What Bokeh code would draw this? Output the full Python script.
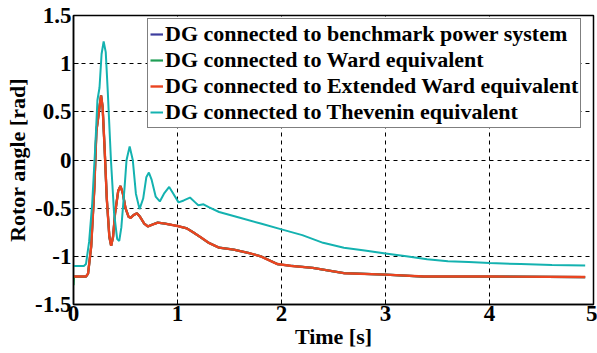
from bokeh.plotting import figure
from bokeh.models import ColumnDataSource, Legend, LegendItem, FixedTicker, Range1d
from bokeh.embed import file_html
from bokeh.resources import INLINE

# ---- data ----
t_thev = [0, 0.10, 0.12, 0.15, 0.18, 0.21, 0.23, 0.25, 0.27, 0.29, 0.31, 0.33, 0.36, 0.39,
          0.42, 0.44, 0.46, 0.49, 0.51, 0.54, 0.57, 0.60, 0.635, 0.67, 0.70, 0.725, 0.75,
          0.79, 0.83, 0.87, 0.92, 0.96, 1.01, 1.06, 1.12, 1.17, 1.20, 1.25, 1.30, 1.40,
          1.60, 1.80, 2.0, 2.2, 2.4, 2.6, 2.8, 3.0, 3.2, 3.4, 3.6, 3.8, 4.0, 4.3, 4.6, 4.92]
thevenin = [-1.10, -1.10, -1.08, -0.85, -0.45, 0.15, 0.62, 0.75, 1.10, 1.23, 1.12, 0.70,
            0.0, -0.55, -0.82, -0.84, -0.70, -0.30, 0.00, 0.14, 0.00, -0.35, -0.51, -0.40,
            -0.18, -0.13, -0.20, -0.38, -0.43, -0.35, -0.28, -0.35, -0.44, -0.42, -0.39,
            -0.44, -0.47, -0.46, -0.49, -0.54, -0.60, -0.66, -0.72, -0.78, -0.86, -0.91,
            -0.94, -0.97, -1.00, -1.03, -1.05, -1.06, -1.07, -1.08, -1.09, -1.095]

t_ward = [0, 0.005, 0.12, 0.14, 0.17, 0.20, 0.22, 0.235, 0.25, 0.265, 0.28, 0.30, 0.32,
          0.345, 0.362, 0.38, 0.40, 0.43, 0.452, 0.475, 0.50, 0.53, 0.55, 0.58, 0.61, 0.64,
          0.68, 0.715, 0.76, 0.81, 0.88, 0.95, 1.00, 1.09, 1.15, 1.22, 1.30, 1.40, 1.54,
          1.70, 1.80, 1.96, 2.10, 2.30, 2.60, 3.00, 3.37, 4.00, 4.92]
benchmark = [-1.21, -1.21, -1.21, -1.18, -0.90, -0.30, 0.30, 0.42, 0.55, 0.67, 0.55, 0.10,
             -0.40, -0.80, -0.89, -0.80, -0.55, -0.32, -0.27, -0.35, -0.50, -0.59, -0.60,
             -0.57, -0.553, -0.59, -0.66, -0.69, -0.67, -0.65, -0.66, -0.675, -0.685, -0.71,
             -0.75, -0.80, -0.86, -0.91, -0.93, -0.97, -1.00, -1.08, -1.10, -1.12, -1.175,
             -1.19, -1.21, -1.21, -1.215]
ward = [-1.30, -1.21, -1.21, -1.18, -0.90, -0.30, 0.30, 0.42, 0.55, 0.67, 0.55, 0.10,
        -0.40, -0.80, -0.89, -0.80, -0.55, -0.32, -0.27, -0.35, -0.50, -0.59, -0.60,
        -0.57, -0.553, -0.59, -0.66, -0.69, -0.67, -0.65, -0.66, -0.675, -0.685, -0.71,
        -0.75, -0.80, -0.86, -0.91, -0.93, -0.97, -1.00, -1.08, -1.10, -1.12, -1.175,
        -1.19, -1.21, -1.21, -1.215]
extended_ward = [-1.21, -1.21, -1.21, -1.18, -0.90, -0.30, 0.30, 0.42, 0.55, 0.67, 0.55, 0.10,
                 -0.40, -0.80, -0.89, -0.80, -0.55, -0.32, -0.27, -0.35, -0.50, -0.59, -0.60,
                 -0.57, -0.553, -0.59, -0.66, -0.69, -0.67, -0.65, -0.66, -0.675, -0.685, -0.71,
                 -0.75, -0.80, -0.86, -0.91, -0.93, -0.97, -1.00, -1.08, -1.10, -1.12, -1.175,
                 -1.19, -1.21, -1.21, -1.215]

labels = ["DG connected to benchmark power system",
          "DG connected to Ward equivalent",
          "DG connected to Extended Ward equivalent",
          "DG connected to Thevenin equivalent"]
colors = ["#3d3d9e", "#1f9e55", "#ea4420", "#14b2b0"]

x_ticks = [0, 1, 2, 3, 4, 5]
x_tick_labels = ["0", "1", "2", "3", "4", "5"]
y_ticks = [-1.5, -1, -0.5, 0, 0.5, 1, 1.5]
y_tick_labels = ["-1.5", "-1", "-0.5", "0", "0.5", "1", "1.5"]

FONT = "Liberation Serif"

p = figure(width=597, height=353, output_backend="svg", toolbar_location=None,
           x_range=Range1d(0, 5), y_range=Range1d(-1.5, 1.5),
           min_border_left=73, min_border_right=4, min_border_top=15, min_border_bottom=49)
p.background_fill_color = "white"
p.border_fill_color = "white"
p.outline_line_color = "black"
p.outline_line_width = 1.5

series = [(t_ward, benchmark), (t_ward, ward), (t_ward, extended_ward), (t_thev, thevenin)]
widths = [2.2, 2.2, 2.4, 2.0]
renderers = []
for (tx, yv), c, w in zip(series, colors, widths):
    src = ColumnDataSource(dict(t=tx, y=yv))
    r = p.line("t", "y", source=src, line_color=c, line_width=w)
    renderers.append(r)

for ax, ticks, labs in ((p.xaxis[0], x_ticks, x_tick_labels), (p.yaxis[0], y_ticks, y_tick_labels)):
    ax.ticker = FixedTicker(ticks=ticks)
    ax.major_label_overrides = {t: l for t, l in zip(ticks, labs)}
    ax.minor_tick_line_color = None
    ax.major_tick_in = 5
    ax.major_tick_out = 0
    ax.major_tick_line_color = "black"
    ax.axis_line_color = "black"
    ax.axis_line_width = 1.5
    ax.major_label_text_font = FONT
    ax.major_label_text_font_style = "bold"
    ax.major_label_text_font_size = "23px"
    ax.major_label_text_color = "black"
    ax.axis_label_text_font = FONT
    ax.axis_label_text_font_style = "bold"
    ax.axis_label_text_font_size = "22px"
    ax.axis_label_text_color = "black"

p.xaxis.axis_label = "Time [s]"
p.yaxis.axis_label = "Rotor angle [rad]"
p.xaxis.major_label_standoff = 1
p.yaxis.major_label_standoff = 2
p.xaxis.axis_label_standoff = 0
p.yaxis.axis_label_standoff = 2

for g in (p.xgrid[0], p.ygrid[0]):
    g.grid_line_color = "black"
    g.grid_line_dash = "4 4"
    g.grid_line_width = 1
p.xgrid[0].ticker = FixedTicker(ticks=x_ticks)
p.ygrid[0].ticker = FixedTicker(ticks=y_ticks)

legend = Legend(items=[LegendItem(label=l, renderers=[r]) for l, r in zip(labels, renderers)],
                location=(74, 176))
legend.label_text_font = FONT
legend.label_text_font_style = "bold"
legend.label_text_font_size = "22px"
legend.label_text_color = "black"
legend.glyph_width = 13
legend.glyph_height = 26
legend.label_height = 26
legend.label_standoff = 2
legend.spacing = 0
legend.padding = 2
legend.margin = 0
legend.border_line_color = "black"
legend.border_line_width = 1.5
legend.background_fill_alpha = 1
p.add_layout(legend, "center")

open("out.html", "w").write(file_html(p, INLINE))
